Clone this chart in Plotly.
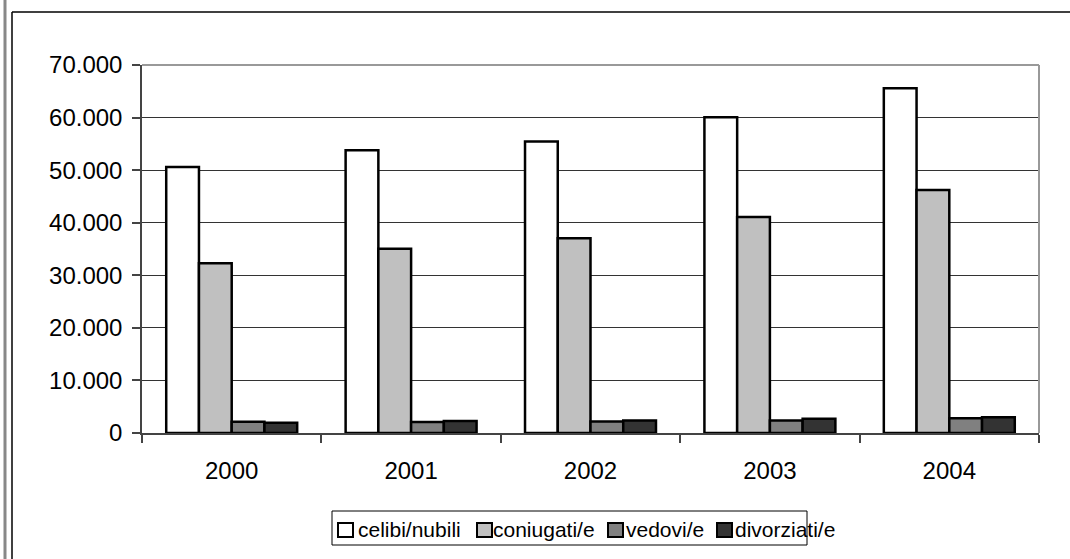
import plotly.graph_objects as go

years = ["2000", "2001", "2002", "2003", "2004"]
celibi = [50600, 53800, 55450, 60050, 65600]
coniugati = [32300, 35050, 37050, 41100, 46200]
vedovi = [2150, 2100, 2200, 2400, 2800]
divorziati = [1950, 2300, 2400, 2700, 3000]

series_names = ["celibi/nubili", "coniugati/e", "vedovi/e", "divorziati/e"]
series_vals = [celibi, coniugati, vedovi, divorziati]
colors = ["#ffffff", "#c0c0c0", "#808080", "#333333"]
y_tickvals = [0, 10000, 20000, 30000, 40000, 50000, 60000, 70000]
y_ticktext = ["0", "10.000", "20.000", "30.000", "40.000", "50.000", "60.000", "70.000"]

fig = go.Figure()
for name, vals, col in zip(series_names, series_vals, colors):
    fig.add_trace(go.Bar(
        x=years, y=vals, name=name, showlegend=False,
        marker=dict(color=col, line=dict(color="#000000", width=2.5)),
    ))

font = "Liberation Sans, Arial, sans-serif"
W, H = 1070, 559
L, R, T, B = 142, 31, 65, 126
pw, ph = W - L - R, H - T - B

def px(x):
    return (x - L) / pw

def py(y):
    return (H - B - y) / ph

shapes = [
    # plot area border (top and right, gray)
    dict(type="line", xref="paper", yref="paper", x0=0, x1=1, y0=1, y1=1,
         line=dict(color="#999999", width=2)),
    dict(type="line", xref="paper", yref="paper", x0=1, x1=1, y0=0, y1=1,
         line=dict(color="#999999", width=2)),
    # outer frame
    dict(type="line", xref="paper", yref="paper", x0=px(12), x1=px(1075), y0=py(12), y1=py(12),
         line=dict(color="#000000", width=1.5)),
    dict(type="line", xref="paper", yref="paper", x0=px(12), x1=px(12), y0=py(12), y1=py(565),
         line=dict(color="#000000", width=1.5)),
    dict(type="line", xref="paper", yref="paper", x0=px(5), x1=px(5), y0=py(-5), y1=py(565),
         line=dict(color="#888888", width=3)),
    # legend box
    dict(type="rect", xref="paper", yref="paper", x0=px(332), x1=px(807), y0=py(511), y1=py(545),
         line=dict(color="#000000", width=1), fillcolor="white"),
]

# custom legend (symbols + real text)
legend_sym_x = [338, 477, 608, 717]
legend_txt_x = [356, 491, 624, 733]
annotations = []
for name, col, sx, tx in zip(series_names, colors, legend_sym_x, legend_txt_x):
    shapes.append(dict(type="rect", xref="paper", yref="paper",
                       x0=px(sx), x1=px(sx + 15), y0=py(523), y1=py(537),
                       line=dict(color="#000000", width=2), fillcolor=col))
    annotations.append(dict(text=name, xref="paper", yref="paper", x=px(tx), y=py(529),
                            xanchor="left", yanchor="middle", showarrow=False,
                            font=dict(size=21, family=font, color="#000000")))

fig.update_layout(
    width=W, height=H,
    margin=dict(l=L, r=R, t=T, b=B),
    paper_bgcolor="white", plot_bgcolor="white",
    barmode="group", bargap=0.27, bargroupgap=0,
    font=dict(family=font, size=24, color="#000000"),
    showlegend=False,
    xaxis=dict(
        showgrid=False, showline=True, linecolor="#444444", linewidth=1.5,
        ticks="outside", ticklen=8, tickcolor="#444444", tickwidth=1.5,
        tickson="boundaries", tickfont=dict(size=24),
        ticklabelstandoff=15,
    ),
    yaxis=dict(
        range=[0, 70000], tickvals=y_tickvals, ticktext=y_ticktext,
        showgrid=True, gridcolor="#333333", gridwidth=1,
        showline=True, linecolor="#444444", linewidth=1.5,
        ticks="outside", ticklen=8, tickcolor="#444444", tickwidth=1.5,
        tickfont=dict(size=24), ticklabelstandoff=5, zeroline=False,
    ),
    shapes=shapes,
    annotations=annotations,
)

fig.write_html("out.html", config={"displayModeBar": False},
               post_script="document.body.style.margin='0';document.body.style.overflow='hidden';")
